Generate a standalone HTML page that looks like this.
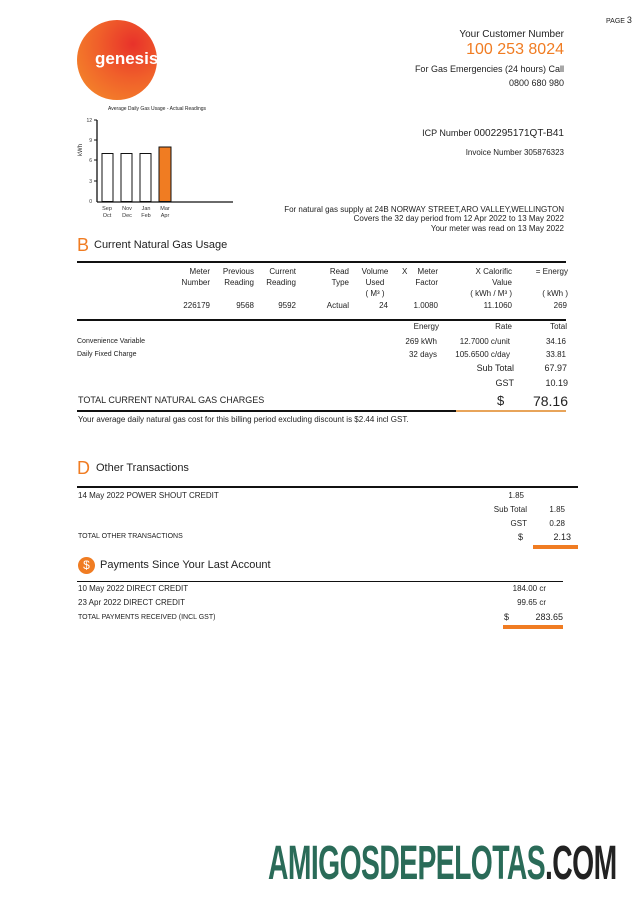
<!DOCTYPE html>
<html><head><meta charset="utf-8"><style>
body{margin:0;width:642px;height:912px;background:#fff;position:relative;overflow:hidden;font-family:"Liberation Sans",Arial,sans-serif;color:#222}
.a{position:absolute;white-space:nowrap;font-size:8px;line-height:1}
.r{text-align:right}
.c{text-align:center}
.or{color:#f07c22}
.ln{position:absolute;background:#111}
</style></head><body>
<div class="a" style="left:606px;top:16px;font-size:7px">PAGE <span style="font-size:9px">3</span></div>
<div style="position:absolute;left:77px;top:20px;width:80px;height:80px;border-radius:50%;background:radial-gradient(circle at 70% 30%,#e8322a 0%,#f0602a 45%,#f5902a 100%)"></div>
<div class="a" style="left:95px;top:50px;font-size:17px;font-weight:bold;color:#fff">genesis</div>

<div class="a r" style="right:78px;top:30px;font-size:10px">Your Customer Number</div>
<div class="a r or" style="right:78px;top:42px;font-size:16px">100 253 8024</div>
<div class="a r" style="right:78px;top:65px;font-size:9px">For Gas Emergencies (24 hours) Call</div>
<div class="a r" style="right:78px;top:79px;font-size:9px">0800 680 980</div>
<div class="a r" style="right:78px;top:129px;font-size:9px">ICP Number <span style="font-size:10px">0002295171QT-B41</span></div>
<div class="a r" style="right:78px;top:149px;font-size:8px">Invoice Number 305876323</div>
<div class="a r" style="right:78px;top:206px;font-size:8px">For natural gas supply at 24B NORWAY STREET,ARO VALLEY,WELLINGTON</div>
<div class="a r" style="right:78px;top:215px;font-size:8px">Covers the 32 day period from 12 Apr 2022 to 13 May 2022</div>
<div class="a r" style="right:78px;top:225px;font-size:8px">Your meter was read on 13 May 2022</div>

<!-- chart -->
<div class="a" style="left:108px;top:107px;font-size:5px">Average Daily Gas Usage - Actual Readings</div>
<svg style="position:absolute;left:70px;top:112px" width="170" height="110">
<g font-family="Liberation Sans" font-size="5" fill="#333">
<text x="22" y="10" text-anchor="end">12</text><text x="22" y="30" text-anchor="end">9</text><text x="22" y="50" text-anchor="end">6</text><text x="22" y="71" text-anchor="end">3</text><text x="22" y="91" text-anchor="end">0</text>
<text transform="translate(12,38) rotate(-90)" text-anchor="middle" font-size="6">kWh</text>
</g>
<line x1="27" y1="8" x2="27" y2="90" stroke="#111" stroke-width="1.3"/>
<line x1="24" y1="8" x2="27" y2="8" stroke="#111"/><line x1="24" y1="28" x2="27" y2="28" stroke="#111"/><line x1="24" y1="48" x2="27" y2="48" stroke="#111"/><line x1="24" y1="69" x2="27" y2="69" stroke="#111"/>
<rect x="32" y="41.5" width="11" height="48" fill="#fff" stroke="#111"/>
<rect x="51" y="41.5" width="11" height="48" fill="#fff" stroke="#111"/>
<rect x="70" y="41.5" width="11" height="48" fill="#fff" stroke="#111"/>
<rect x="89" y="35" width="12" height="54.5" fill="#f07c22" stroke="#111"/>
<line x1="27" y1="90" x2="163" y2="90" stroke="#111" stroke-width="1.3"/>
<g font-family="Liberation Sans" font-size="5.5" fill="#333" text-anchor="middle">
<text x="37" y="98">Sep</text><text x="37" y="105">Oct</text>
<text x="57" y="98">Nov</text><text x="57" y="105">Dec</text>
<text x="76" y="98">Jan</text><text x="76" y="105">Feb</text>
<text x="95" y="98">Mar</text><text x="95" y="105">Apr</text>
</g></svg>

<!-- B -->
<div class="a or" style="left:77px;top:236px;font-size:18px">B</div>
<div class="a" style="left:94px;top:240px;font-size:11px">Current Natural Gas Usage</div>
<div class="ln" style="left:77px;top:261px;width:489px;height:2px"></div>
<div class="a r" style="right:432px;top:266px;line-height:11px">Meter<br>Number</div>
<div class="a r" style="right:388px;top:266px;line-height:11px">Previous<br>Reading</div>
<div class="a r" style="right:346px;top:266px;line-height:11px">Current<br>Reading</div>
<div class="a r" style="right:293px;top:266px;line-height:11px">Read<br>Type</div>
<div class="a c" style="left:357px;top:266px;width:36px;line-height:11px">Volume<br>Used<br>( M³ )</div>
<div class="a" style="left:402px;top:266px;line-height:11px">X</div>
<div class="a r" style="right:204px;top:266px;line-height:11px">Meter<br>Factor</div>
<div class="a r" style="right:130px;top:266px;line-height:11px">X Calorific<br>Value<br>( kWh / M³ )</div>
<div class="a r" style="right:74px;top:266px;line-height:11px">= Energy<br><br>( kWh )</div>
<div class="a r" style="right:432px;top:302px">226179</div>
<div class="a r" style="right:388px;top:302px">9568</div>
<div class="a r" style="right:346px;top:302px">9592</div>
<div class="a r" style="right:293px;top:302px">Actual</div>
<div class="a r" style="right:254px;top:302px">24</div>
<div class="a r" style="right:204px;top:302px">1.0080</div>
<div class="a r" style="right:130px;top:302px">11.1060</div>
<div class="a r" style="right:75px;top:302px">269</div>
<div class="ln" style="left:77px;top:319px;width:489px;height:2px"></div>
<div class="a r" style="right:203px;top:323px">Energy</div>
<div class="a r" style="right:130px;top:323px">Rate</div>
<div class="a r" style="right:75px;top:323px">Total</div>
<div class="a" style="left:77px;top:338px;font-size:7px">Convenience Variable</div>
<div class="a" style="left:77px;top:351px;font-size:7px">Daily Fixed Charge</div>
<div class="a r" style="right:205px;top:338px">269 kWh</div>
<div class="a r" style="right:205px;top:351px">32 days</div>
<div class="a r" style="right:132px;top:338px">12.7000 c/unit</div>
<div class="a r" style="right:132px;top:351px">105.6500 c/day</div>
<div class="a r" style="right:76px;top:338px">34.16</div>
<div class="a r" style="right:76px;top:351px">33.81</div>
<div class="a r" style="right:128px;top:364px;font-size:9px">Sub Total</div>
<div class="a r" style="right:75px;top:364px;font-size:9px">67.97</div>
<div class="a r" style="right:128px;top:379px;font-size:9px">GST</div>
<div class="a r" style="right:74px;top:379px;font-size:9px">10.19</div>
<div class="a" style="left:78px;top:396px;font-size:9px">TOTAL CURRENT NATURAL GAS CHARGES</div>
<div class="a" style="left:497px;top:394px;font-size:13px">$</div>
<div class="a r" style="right:74px;top:394px;font-size:14px">78.16</div>
<div class="ln" style="left:77px;top:410px;width:379px;height:2px"></div>
<div class="ln" style="left:456px;top:410px;width:110px;height:2px;background:#e8a45a"></div>
<div class="a" style="left:78px;top:416px;font-size:8px">Your average daily natural gas cost for this billing period excluding discount is $2.44 incl GST.</div>

<!-- D -->
<div class="a or" style="left:77px;top:459px;font-size:18px">D</div>
<div class="a" style="left:96px;top:463px;font-size:11px">Other Transactions</div>
<div class="ln" style="left:77px;top:486px;width:501px;height:2px"></div>
<div class="a" style="left:78px;top:492px;font-size:8px">14 May 2022 POWER SHOUT CREDIT</div>
<div class="a r" style="right:118px;top:492px">1.85</div>
<div class="a r" style="right:115px;top:506px">Sub Total</div>
<div class="a r" style="right:77px;top:506px">1.85</div>
<div class="a r" style="right:115px;top:520px">GST</div>
<div class="a r" style="right:77px;top:520px">0.28</div>
<div class="a" style="left:78px;top:533px;font-size:7px">TOTAL OTHER TRANSACTIONS</div>
<div class="a" style="left:518px;top:533px;font-size:9px">$</div>
<div class="a r" style="right:71px;top:533px;font-size:9px">2.13</div>
<div class="ln" style="left:533px;top:545px;width:45px;height:4px;background:#f07c22"></div>

<!-- Payments -->
<div style="position:absolute;left:78px;top:557px;width:17px;height:17px;border-radius:50%;background:#f07c22;color:#fff;font-size:12px;text-align:center;line-height:17px">$</div>
<div class="a" style="left:100px;top:560px;font-size:11px">Payments Since Your Last Account</div>
<div class="ln" style="left:77px;top:581px;width:486px;height:1px"></div>
<div class="a" style="left:78px;top:585px;font-size:8px">10 May 2022 DIRECT CREDIT</div>
<div class="a" style="left:78px;top:599px;font-size:8px">23 Apr 2022 DIRECT CREDIT</div>
<div class="a" style="left:78px;top:614px;font-size:7px">TOTAL PAYMENTS RECEIVED (INCL GST)</div>
<div class="a r" style="right:96px;top:585px">184.00 cr</div>
<div class="a r" style="right:96px;top:599px">99.65 cr</div>
<div class="a" style="left:504px;top:613px;font-size:9px">$</div>
<div class="a r" style="right:79px;top:613px;font-size:9px">283.65</div>
<div class="ln" style="left:503px;top:625px;width:60px;height:4px;background:#f07c22"></div>

<div class="a" style="left:268px;top:840px;font-size:48px;font-weight:bold;letter-spacing:-1px;transform:scaleX(0.59);transform-origin:0 0;color:#2a6b58">AMIGOSDEPELOTAS<span style="color:#222">.COM</span></div>
</body></html>
